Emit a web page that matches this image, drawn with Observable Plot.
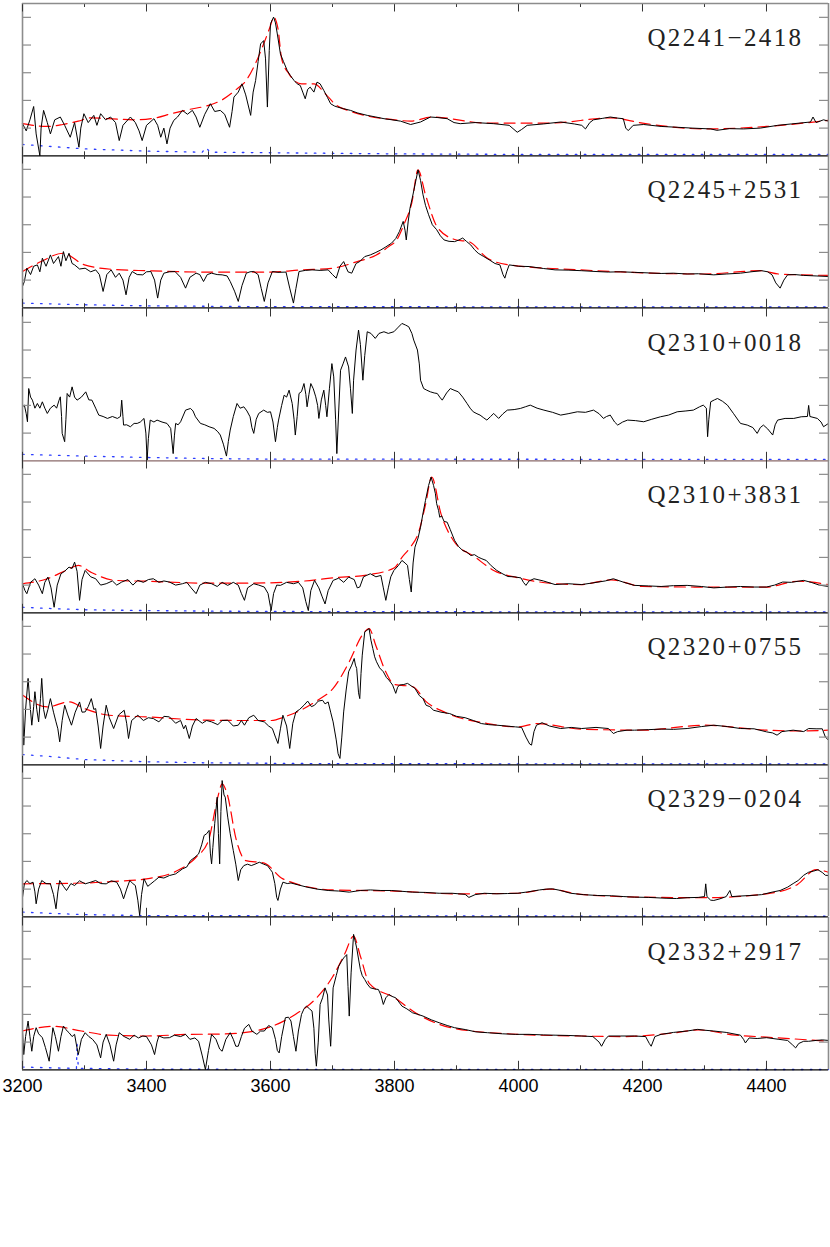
<!DOCTYPE html>
<html><head><meta charset="utf-8">
<script src="https://cdn.jsdelivr.net/npm/d3@7"></script>
<script src="https://cdn.jsdelivr.net/npm/@observablehq/plot@0.6"></script>
<style>
body{margin:0;background:#fff}
#chart{padding-top:3px;width:830px}
#chart svg{display:block}
</style>
</head><body><div id="chart"></div>
<script>
// ---------- DATA ----------
const names = ["Q2241\u22122418","Q2245+2531","Q2310+0018","Q2310+3831","Q2320+0755","Q2329\u22120204","Q2332+2917"];

const spec1 = [[3200,1.16],[3206,0.9],[3212,1.3],[3218,1.78],[3222,0.79],[3228,0],[3230,1.0],[3234,1.64],[3240,1.2],[3245,0.79],[3252,1.3],[3261,1.40],[3268,1.1],[3277,0.67],[3284,1.2],[3291,0.31],[3294,1.0],[3299,1.52],[3306,1.2],[3315,1.46],[3320,1.1],[3326,1.52],[3334,1.3],[3342,1.40],[3350,1.2],[3356,0.55],[3362,1.1],[3374,1.40],[3382,1.2],[3388,0.9],[3393,0.55],[3400,1.1],[3412,1.34],[3418,1.1],[3423,0.67],[3428,1.0],[3433,0.43],[3438,1.0],[3444,1.28],[3450,1.4],[3458,1.64],[3466,1.5],[3474,1.64],[3480,1.4],[3486,1.03],[3494,1.5],[3503,1.88],[3510,1.6],[3519,1.64],[3526,1.5],[3534,1.03],[3538,1.6],[3541,2.12],[3548,2.3],[3554,2.60],[3560,2.2],[3568,1.46],[3572,2.3],[3576,2.72],[3580,3.4],[3584,4.04],[3589,4.16],[3592,3.5],[3595,1.76],[3598,3.8],[3600,4.77],[3605,5.01],[3608,4.8],[3611,4.40],[3616,3.68],[3621,3.4],[3627,3.08],[3632,2.9],[3638,2.72],[3643,2.6],[3648,2.54],[3652,2.3],[3656,2.06],[3660,2.4],[3664,2.48],[3670,2.3],[3675,2.66],[3680,2.6],[3686,2.36],[3692,2.1],[3697,1.88],[3703,1.8],[3708,1.76],[3718,1.7],[3729,1.64],[3740,1.55],[3756,1.46],[3770,1.4],[3783,1.34],[3796,1.3],[3810,1.25],[3826,1.13],[3842,1.22],[3858,1.40],[3870,1.38],[3885,1.34],[3896,1.2],[3906,1.16],[3930,1.2],[3960,1.16],[3985,1.1],[3998,0.85],[4005,0.95],[4014,1.10],[4040,1.15],[4068,1.22],[4090,1.15],[4102,1.1],[4108,0.97],[4115,1.2],[4121,1.30],[4135,1.35],[4148,1.40],[4160,1.36],[4169,1.34],[4173,1.0],[4177,0.91],[4185,1.1],[4202,1.13],[4230,1.06],[4256,1.03],[4280,1.0],[4310,0.97],[4320,0.92],[4340,0.98],[4363,0.97],[4390,1.0],[4418,1.1],[4440,1.15],[4471,1.22],[4475,1.4],[4480,1.2],[4492,1.30],[4500,1.25]];
const cont1 = [[3200,1.16],[3240,1.06],[3265,1.13],[3290,1.25],[3310,1.37],[3340,1.34],[3380,1.30],[3415,1.37],[3440,1.52],[3470,1.68],[3500,1.82],[3522,2.02],[3545,2.4],[3560,2.7],[3575,3.3],[3590,4.1],[3600,4.7],[3605,5.01],[3612,4.6],[3618,3.5],[3630,2.95],[3650,2.6],[3670,2.6],[3690,2.2],[3705,1.85],[3730,1.6],[3760,1.42],[3800,1.3],[3826,1.25],[3860,1.40],[3950,1.18],[4050,1.18],[4150,1.37],[4200,1.18],[4300,0.97],[4400,1.06],[4500,1.28]];
const err1 = [[3200,0.41],[3250,0.33],[3300,0.25],[3400,0.17],[3490,0.13],[3496,0.31],[3502,0.13],[3600,0.11],[3800,0.07],[4000,0.05],[4500,0.05]];

const spec2 = [[3200,0.77],[3203,0.95],[3207,1.43],[3213,1.2],[3218,1.5],[3224,1.55],[3228,1.3],[3232,1.79],[3238,1.5],[3245,1.91],[3250,1.6],[3258,1.85],[3262,1.5],[3266,2.03],[3270,1.7],[3275,1.97],[3280,1.6],[3284,1.55],[3292,1.4],[3301,1.43],[3310,1.3],[3318,1.37],[3324,1.2],[3330,0.59],[3336,1.2],[3343,1.37],[3350,1.1],[3356,1.25],[3362,1.0],[3367,0.47],[3372,1.1],[3377,1.31],[3385,1.2],[3394,1.19],[3400,1.3],[3407,1.31],[3413,1.0],[3418,0.35],[3423,1.0],[3428,1.25],[3437,1.3],[3446,1.31],[3455,1.1],[3463,0.71],[3470,1.1],[3480,1.25],[3486,1.2],[3492,0.95],[3498,1.2],[3505,1.25],[3514,1.2],[3522,1.19],[3530,1.15],[3535,0.95],[3542,0.6],[3548,0.23],[3554,0.8],[3561,1.25],[3567,1.3],[3573,1.31],[3580,1.2],[3585,0.7],[3590,0.23],[3596,0.9],[3603,1.31],[3612,1.28],[3625,1.29],[3631,0.71],[3637,0.17],[3641,0.7],[3646,1.31],[3656,1.35],[3667,1.37],[3680,1.35],[3693,1.37],[3700,1.2],[3706,1.07],[3712,1.5],[3718,1.67],[3725,1.3],[3731,1.25],[3738,1.6],[3744,1.67],[3752,1.85],[3761,1.91],[3770,2.0],[3778,2.09],[3786,2.2],[3795,2.33],[3802,2.5],[3808,2.76],[3814,3.12],[3817,2.8],[3819,2.45],[3822,3.1],[3825,3.60],[3829,4.0],[3833,4.44],[3838,4.98],[3842,4.6],[3846,4.08],[3850,3.7],[3855,3.36],[3861,3.0],[3868,2.82],[3874,2.6],[3880,2.45],[3888,2.4],[3897,2.39],[3904,2.45],[3910,2.52],[3916,2.4],[3923,2.27],[3929,2.1],[3935,1.97],[3944,1.85],[3953,1.73],[3962,1.6],[3970,1.55],[3975,1.2],[3978,1.07],[3981,1.3],[3985,1.55],[4000,1.5],[4017,1.49],[4040,1.42],[4059,1.37],[4080,1.36],[4102,1.34],[4125,1.31],[4145,1.29],[4165,1.3],[4187,1.28],[4210,1.26],[4230,1.24],[4250,1.25],[4272,1.22],[4290,1.23],[4315,1.19],[4335,1.22],[4358,1.25],[4375,1.3],[4392,1.34],[4402,1.3],[4409,1.19],[4415,0.9],[4422,0.71],[4428,1.0],[4434,1.19],[4446,1.2],[4460,1.17],[4480,1.15],[4500,1.13]];
const cont2 = [[3200,1.31],[3230,1.67],[3265,1.97],[3300,1.55],[3350,1.38],[3400,1.34],[3500,1.29],[3600,1.29],[3650,1.37],[3700,1.43],[3740,1.67],[3770,1.9],[3790,2.2],[3805,2.5],[3815,3.0],[3828,3.8],[3838,4.98],[3850,4.08],[3870,2.88],[3900,2.45],[3920,2.39],[3950,1.79],[3985,1.55],[4100,1.37],[4300,1.22],[4390,1.34],[4420,1.22],[4500,1.17]];
const err2 = [[3200,0.17],[3300,0.11],[3400,0.07],[3600,0.04],[4500,0.03]];

const spec3 = [[3200,1.95],[3203,2.01],[3206,1.7],[3208,1.41],[3210,2.61],[3213,2.3],[3216,2.19],[3220,1.9],[3224,2.07],[3228,1.9],[3232,2.13],[3236,1.9],[3240,1.71],[3245,1.9],[3251,2.01],[3255,1.9],[3259,2.19],[3261,2.31],[3263,1.6],[3264,0.99],[3268,0.69],[3270,1.5],[3272,2.43],[3276,2.3],[3280,2.67],[3284,2.3],[3288,2.19],[3295,2.3],[3302,2.49],[3307,2.2],[3312,2.19],[3318,1.9],[3323,1.65],[3330,1.6],[3337,1.53],[3345,1.6],[3353,1.53],[3358,1.6],[3360,2.19],[3362,1.6],[3363,1.29],[3368,1.3],[3374,1.23],[3380,1.35],[3385,1.35],[3390,1.4],[3396,1.53],[3399,1.0],[3401,0.02],[3403,0.8],[3406,1.47],[3412,1.4],[3417,1.47],[3425,1.4],[3433,1.35],[3439,1.17],[3443,0.26],[3445,0.9],[3447,1.35],[3451,1.3],[3455,1.41],[3463,1.83],[3471,1.89],[3475,1.8],[3479,1.59],[3487,1.35],[3494,1.3],[3501,1.23],[3509,1.17],[3515,1.05],[3519,0.93],[3524,0.6],[3529,0.17],[3532,0.7],[3535,1.11],[3540,1.6],[3546,2.07],[3551,1.9],[3557,1.95],[3562,1.8],[3567,1.59],[3570,1.2],[3573,0.99],[3577,1.5],[3581,1.71],[3589,1.83],[3595,1.75],[3600,1.77],[3604,1.4],[3608,0.69],[3611,1.2],[3613,1.47],[3618,2.0],[3622,2.37],[3626,2.3],[3630,2.55],[3635,2.07],[3638,1.5],[3640,0.93],[3643,1.6],[3646,2.43],[3650,2.5],[3654,2.79],[3657,2.4],[3659,1.95],[3662,2.4],[3665,2.79],[3669,2.6],[3673,2.31],[3676,2.0],[3678,1.53],[3682,2.2],[3686,2.55],[3689,2.0],[3691,1.59],[3695,2.6],[3699,3.51],[3702,3.03],[3705,1.5],[3707,0.26],[3710,1.8],[3713,3.27],[3717,3.5],[3721,3.75],[3726,3.39],[3729,2.6],[3732,1.71],[3734,2.91],[3738,4.0],[3742,4.72],[3745,4.2],[3749,2.91],[3752,3.8],[3756,4.66],[3762,4.6],[3769,4.42],[3775,4.6],[3783,4.66],[3790,4.6],[3799,4.66],[3805,4.8],[3812,4.96],[3818,4.9],[3823,4.84],[3828,4.6],[3831,4.36],[3834,4.18],[3837,4.0],[3840,3.5],[3842,2.91],[3847,2.61],[3852,2.55],[3858,2.49],[3864,2.45],[3869,2.43],[3873,2.3],[3877,2.19],[3884,2.45],[3890,2.61],[3896,2.55],[3903,2.49],[3910,2.3],[3917,2.07],[3922,1.9],[3927,1.77],[3933,1.7],[3938,1.65],[3944,1.55],[3949,1.47],[3955,1.6],[3960,1.71],[3968,1.53],[3975,1.7],[3982,1.83],[3993,1.85],[4003,1.89],[4011,1.95],[4019,2.01],[4030,1.9],[4041,1.83],[4055,1.75],[4068,1.65],[4080,1.7],[4095,1.77],[4108,1.75],[4121,1.83],[4130,1.7],[4137,1.53],[4142,1.6],[4148,1.65],[4155,1.4],[4160,1.29],[4168,1.4],[4176,1.47],[4189,1.45],[4202,1.41],[4215,1.5],[4229,1.59],[4242,1.65],[4256,1.77],[4270,1.8],[4282,1.83],[4292,1.95],[4298,2.01],[4303,1.9],[4305,0.87],[4307,1.5],[4310,2.13],[4316,2.2],[4321,2.25],[4329,2.15],[4337,2.01],[4347,1.7],[4358,1.35],[4369,1.29],[4378,1.2],[4385,0.99],[4390,1.2],[4395,1.29],[4402,1.15],[4410,0.93],[4414,1.3],[4418,1.47],[4430,1.53],[4444,1.53],[4456,1.59],[4466,1.6],[4468,2.0],[4470,1.6],[4482,1.53],[4488,1.4],[4492,1.23],[4500,1.35]];
const cont3 = [];
const err3 = [[3200,0.23],[3250,0.2],[3300,0.17],[3400,0.12],[3500,0.08],[3600,0.06],[4500,0.05]];

const spec4 = [[3200,1.05],[3204,0.8],[3207,0.69],[3213,1.1],[3220,1.23],[3226,1.0],[3232,0.69],[3236,1.1],[3241,1.29],[3246,0.9],[3251,0.20],[3256,1.0],[3262,1.41],[3268,1.5],[3275,1.65],[3280,1.6],[3284,1.83],[3288,1.5],[3292,0.45],[3296,1.2],[3301,1.53],[3310,1.3],[3318,1.23],[3326,1.0],[3335,1.05],[3345,1.15],[3352,1.0],[3360,1.11],[3370,1.2],[3378,1.0],[3386,1.17],[3395,1.1],[3403,1.2],[3411,1.23],[3420,1.1],[3428,1.15],[3437,1.11],[3447,1.0],[3458,1.05],[3465,1.1],[3472,0.9],[3480,0.69],[3486,1.0],[3495,1.1],[3505,1.05],[3514,0.95],[3522,1.1],[3531,0.99],[3540,1.1],[3548,1.0],[3553,0.7],[3558,0.45],[3563,0.9],[3573,1.05],[3581,1.0],[3590,0.93],[3596,0.7],[3601,0.08],[3605,0.7],[3610,1.0],[3616,0.99],[3626,1.1],[3637,1.05],[3645,1.1],[3652,0.9],[3657,0.4],[3661,0.08],[3665,0.8],[3671,1.17],[3678,0.9],[3683,0.6],[3688,0.32],[3693,0.8],[3701,1.17],[3710,1.25],[3718,1.1],[3726,1.29],[3735,1.2],[3740,0.9],[3744,0.93],[3750,1.3],[3755,1.35],[3761,1.41],[3770,1.3],[3778,1.35],[3782,0.9],[3786,0.45],[3790,0.9],[3794,1.3],[3799,1.53],[3806,1.7],[3812,1.89],[3817,1.8],[3821,1.71],[3824,1.2],[3827,0.75],[3830,1.8],[3833,2.37],[3838,2.7],[3842,3.09],[3846,3.6],[3850,4.06],[3855,4.6],[3859,4.90],[3863,4.6],[3866,4.3],[3868,3.94],[3871,3.7],[3873,3.45],[3876,3.5],[3880,3.3],[3885,3.27],[3890,3.0],[3897,2.61],[3903,2.4],[3910,2.25],[3916,2.2],[3923,2.07],[3929,2.1],[3935,2.01],[3941,1.95],[3948,1.89],[3956,1.7],[3965,1.53],[3975,1.4],[3983,1.31],[3993,1.3],[4004,1.26],[4008,1.1],[4012,0.99],[4017,1.15],[4025,1.23],[4040,1.15],[4059,1.02],[4080,1.05],[4102,1.02],[4120,1.08],[4140,1.15],[4153,1.23],[4170,1.1],[4187,0.99],[4210,0.97],[4230,0.95],[4250,0.98],[4272,0.99],[4295,0.95],[4315,0.90],[4337,0.93],[4358,0.95],[4380,0.93],[4400,0.93],[4413,1.0],[4426,1.11],[4440,1.1],[4460,1.17],[4472,1.1],[4485,1.0],[4500,0.95]];
const cont4 = [[3200,1.05],[3240,1.23],[3270,1.53],[3290,1.71],[3310,1.47],[3350,1.17],[3400,1.14],[3500,1.07],[3560,1.07],[3650,1.14],[3700,1.26],[3760,1.38],[3800,1.63],[3812,2.0],[3825,2.35],[3838,2.85],[3850,3.9],[3860,4.90],[3875,3.57],[3895,2.61],[3930,2.01],[3960,1.53],[4000,1.26],[4050,1.07],[4100,1.02],[4150,1.19],[4200,0.95],[4300,0.93],[4400,0.93],[4450,1.14],[4500,1.02]];
const err4 = [[3200,0.20],[3250,0.15],[3300,0.11],[3400,0.08],[3500,0.06],[3700,0.04],[4500,0.03]];

const spec5 = [[3200,2.52],[3202,0.71],[3205,2.0],[3209,3.12],[3212,2.2],[3215,1.43],[3218,2.1],[3220,2.64],[3223,2.0],[3226,1.55],[3229,2.4],[3231,3.12],[3234,2.0],[3237,1.67],[3241,2.0],[3245,2.39],[3250,1.9],[3254,1.55],[3257,1.3],[3260,0.83],[3264,1.6],[3268,2.15],[3273,1.8],[3279,1.43],[3285,1.9],[3292,2.27],[3296,1.9],[3301,1.91],[3306,2.1],[3311,2.39],[3315,2.0],[3318,2.03],[3322,1.4],[3326,0.59],[3330,1.4],[3335,2.15],[3340,1.7],[3347,1.31],[3355,1.8],[3364,1.97],[3368,1.5],[3371,0.95],[3376,1.6],[3386,1.79],[3395,1.6],[3403,1.7],[3411,1.67],[3420,1.55],[3428,1.75],[3437,1.73],[3447,1.5],[3455,1.6],[3460,1.3],[3463,1.43],[3469,0.95],[3474,1.4],[3480,1.67],[3490,1.5],[3497,1.6],[3505,1.55],[3515,1.45],[3522,1.6],[3531,1.61],[3540,1.4],[3548,1.43],[3553,1.6],[3558,1.43],[3565,1.7],[3573,1.79],[3580,1.6],[3590,1.55],[3597,1.4],[3603,1.31],[3608,1.0],[3612,0.77],[3616,1.3],[3620,1.79],[3626,1.4],[3631,0.59],[3636,1.5],[3641,1.91],[3647,2.0],[3654,2.15],[3660,2.3],[3666,2.1],[3671,2.15],[3677,2.3],[3684,2.33],[3688,2.2],[3693,2.27],[3697,1.9],[3701,1.55],[3706,0.9],[3709,0.4],[3712,0.23],[3715,1.0],[3718,1.91],[3722,2.7],[3726,3.36],[3731,3.6],[3735,3.84],[3737,3.6],[3739,3.48],[3742,2.6],[3744,2.39],[3746,3.3],[3748,3.96],[3752,4.80],[3755,4.85],[3759,4.92],[3762,4.5],[3765,4.20],[3768,3.9],[3771,3.72],[3776,3.5],[3782,3.36],[3787,3.15],[3791,3.06],[3797,2.88],[3800,2.7],[3802,2.58],[3805,2.8],[3808,2.88],[3815,2.9],[3821,2.94],[3827,2.85],[3833,2.76],[3840,2.5],[3846,2.39],[3851,2.15],[3857,2.1],[3863,1.97],[3875,1.9],[3889,1.85],[3900,1.75],[3914,1.70],[3927,1.6],[3940,1.49],[3952,1.45],[3965,1.43],[3980,1.4],[3995,1.37],[4005,1.35],[4012,1.0],[4018,0.75],[4021,0.71],[4025,1.2],[4029,1.43],[4038,1.52],[4050,1.4],[4068,1.31],[4085,1.35],[4102,1.31],[4125,1.35],[4145,1.31],[4150,1.2],[4153,1.13],[4160,1.2],[4175,1.25],[4187,1.25],[4210,1.27],[4230,1.29],[4250,1.28],[4272,1.31],[4295,1.38],[4315,1.43],[4337,1.38],[4358,1.31],[4380,1.3],[4400,1.19],[4410,1.15],[4417,1.07],[4425,1.2],[4443,1.25],[4460,1.2],[4468,1.31],[4480,1.3],[4490,1.3],[4495,1.0],[4500,0.89]];
const cont5 = [[3200,2.52],[3240,2.09],[3275,2.27],[3300,2.03],[3340,1.79],[3400,1.73],[3500,1.61],[3560,1.6],[3600,1.6],[3625,1.75],[3654,2.03],[3676,2.33],[3701,2.76],[3727,3.72],[3748,4.68],[3759,4.92],[3770,4.3],[3785,3.4],[3800,2.9],[3830,2.82],[3850,2.3],[3880,1.91],[3950,1.49],[4000,1.37],[4030,1.49],[4100,1.29],[4200,1.25],[4300,1.43],[4400,1.25],[4450,1.22],[4500,1.25]];
const err5 = [[3200,0.37],[3250,0.29],[3300,0.19],[3400,0.11],[3500,0.07],[3700,0.04],[4500,0.03]];

const spec6 = [[3200,0.7],[3203,1.19],[3207,1.31],[3212,1.2],[3217,1.25],[3220,0.9],[3222,0.47],[3226,1.0],[3231,1.31],[3238,1.2],[3245,1.19],[3250,0.8],[3254,0.29],[3257,0.9],[3260,1.31],[3266,1.1],[3271,0.95],[3278,1.2],[3284,1.13],[3292,1.3],[3301,1.19],[3310,1.25],[3318,1.31],[3326,1.2],[3335,1.19],[3343,1.3],[3352,1.25],[3358,1.0],[3363,0.65],[3368,1.0],[3373,1.31],[3378,1.2],[3382,1.13],[3386,0.6],[3389,0.05],[3392,0.8],[3396,1.37],[3402,1.1],[3407,1.19],[3413,1.3],[3420,1.43],[3428,1.4],[3437,1.49],[3447,1.55],[3458,1.73],[3465,1.8],[3471,2.03],[3478,2.15],[3484,2.27],[3489,2.6],[3493,2.94],[3497,3.0],[3501,3.12],[3503,2.3],[3505,1.91],[3507,2.5],[3510,3.36],[3514,4.32],[3516,3.0],[3518,1.91],[3520,3.8],[3522,4.92],[3525,4.4],[3527,4.32],[3531,3.60],[3535,3.0],[3540,2.39],[3544,1.9],[3548,1.31],[3552,1.7],[3557,1.85],[3563,1.9],[3569,1.85],[3575,1.9],[3582,1.97],[3589,1.9],[3595,1.85],[3600,1.7],[3603,1.61],[3607,1.2],[3610,0.7],[3612,0.59],[3616,1.0],[3620,1.25],[3627,1.2],[3633,1.22],[3645,1.15],[3659,1.07],[3675,1.0],[3693,0.95],[3710,0.93],[3727,0.89],[3745,0.95],[3761,0.97],[3778,0.95],[3795,0.95],[3812,0.92],[3829,0.89],[3850,0.88],[3872,0.85],[3893,0.85],[3914,0.81],[3920,0.7],[3930,0.8],[3945,0.85],[3965,0.83],[3982,0.84],[3999,0.85],[4015,0.9],[4034,0.97],[4045,1.0],[4055,1.01],[4068,0.95],[4084,0.85],[4105,0.8],[4127,0.77],[4150,0.76],[4170,0.73],[4187,0.71],[4210,0.7],[4238,0.67],[4255,0.66],[4272,0.69],[4290,0.7],[4300,0.73],[4302,1.19],[4304,0.73],[4310,0.6],[4315,0.59],[4325,0.65],[4335,0.73],[4341,0.95],[4344,0.73],[4358,0.75],[4375,0.77],[4392,0.8],[4409,0.89],[4422,0.95],[4434,1.07],[4443,1.2],[4451,1.31],[4460,1.5],[4468,1.61],[4476,1.65],[4483,1.70],[4490,1.6],[4495,1.5],[4500,1.49]];
const cont6 = [[3200,1.19],[3300,1.22],[3350,1.28],[3400,1.37],[3450,1.67],[3480,2.15],[3500,2.76],[3515,4.32],[3522,4.80],[3530,4.44],[3545,2.76],[3560,2.03],[3590,1.94],[3620,1.37],[3700,0.97],[3800,0.93],[3900,0.83],[4000,0.85],[4050,1.00],[4100,0.81],[4200,0.71],[4300,0.69],[4400,0.83],[4450,1.17],[4480,1.70],[4500,1.61]];
const err6 = [[3200,0.17],[3250,0.12],[3300,0.08],[3400,0.04],[4500,0.02]];

const spec7 = [[3200,1.40],[3202,0.55],[3205,1.2],[3209,1.76],[3212,1.2],[3215,0.67],[3218,1.2],[3222,1.52],[3226,1.3],[3232,1.16],[3237,0.8],[3243,0.31],[3246,0.9],[3249,1.52],[3253,1.2],[3258,0.67],[3262,1.2],[3266,1.58],[3270,1.45],[3275,1.34],[3280,1.2],[3284,1.28],[3287,0.9],[3290,0.55],[3295,1.1],[3301,1.34],[3307,1.2],[3313,1.10],[3320,0.9],[3326,0.43],[3330,1.0],[3335,1.28],[3341,0.9],[3347,0.31],[3351,0.9],[3356,1.34],[3364,1.2],[3373,1.10],[3380,1.25],[3387,1.15],[3394,1.22],[3400,1.2],[3408,0.9],[3413,0.55],[3417,1.0],[3420,1.22],[3428,1.15],[3437,1.16],[3445,1.25],[3455,1.2],[3463,1.28],[3470,1.1],[3478,1.15],[3484,1.03],[3490,0.5],[3495,0.01],[3500,0.7],[3505,1.28],[3512,1.1],[3518,0.75],[3522,0.67],[3528,1.1],[3535,1.34],[3540,1.1],[3544,0.85],[3548,0.85],[3553,1.2],[3558,1.5],[3565,1.64],[3570,1.4],[3578,1.28],[3584,1.4],[3590,1.40],[3597,1.6],[3603,1.52],[3608,1.1],[3611,0.7],[3614,0.61],[3618,1.2],[3624,1.88],[3629,1.9],[3633,1.76],[3637,1.2],[3641,0.67],[3645,1.4],[3650,2.00],[3654,2.2],[3658,2.30],[3663,2.2],[3667,2.12],[3670,1.5],[3672,0.6],[3674,0.13],[3677,1.0],[3680,2.36],[3684,2.6],[3688,2.96],[3692,2.7],[3694,1.8],[3697,0.85],[3699,1.8],[3701,2.96],[3706,3.4],[3710,3.74],[3714,3.9],[3718,4.04],[3723,4.16],[3725,3.0],[3727,1.94],[3730,3.5],[3734,4.89],[3737,4.6],[3739,4.40],[3742,4.0],[3745,3.62],[3748,3.4],[3752,3.26],[3756,3.1],[3761,2.96],[3768,2.92],[3774,2.90],[3778,2.7],[3782,2.36],[3786,2.6],[3791,2.72],[3796,2.65],[3802,2.60],[3807,2.45],[3812,2.30],[3820,2.2],[3829,2.06],[3838,2.0],[3846,1.94],[3860,1.8],[3872,1.70],[3885,1.6],[3897,1.52],[3915,1.45],[3931,1.37],[3950,1.34],[3974,1.30],[3995,1.28],[4017,1.28],[4040,1.26],[4059,1.25],[4080,1.24],[4102,1.22],[4120,1.2],[4130,1.0],[4134,0.85],[4140,1.1],[4145,1.22],[4165,1.22],[4187,1.22],[4205,1.2],[4211,0.95],[4214,0.85],[4220,1.2],[4230,1.28],[4250,1.35],[4272,1.40],[4289,1.46],[4300,1.43],[4315,1.40],[4335,1.35],[4358,1.25],[4363,1.1],[4366,0.97],[4372,1.15],[4385,1.13],[4400,1.16],[4420,1.1],[4434,1.06],[4442,0.9],[4447,0.79],[4452,0.95],[4460,1.03],[4468,1.03],[4480,1.06],[4490,1.08],[4500,1.06]];
const cont7 = [[3200,1.40],[3250,1.57],[3295,1.40],[3340,1.25],[3400,1.22],[3470,1.28],[3520,1.29],[3560,1.35],[3600,1.55],[3640,2.0],[3670,2.5],[3700,3.35],[3720,4.2],[3734,4.83],[3745,4.1],[3760,3.1],[3800,2.6],[3835,2.04],[3870,1.66],[3900,1.48],[4000,1.28],[4100,1.22],[4170,1.2],[4250,1.33],[4290,1.44],[4350,1.25],[4400,1.18],[4500,1.03]];
const err7 = [[3200,0.10],[3250,0.07],[3285,0.05],[3287,0.05],[3288,0.97],[3290,0.05],[3300,0.05],[3400,0.02],[4500,0.01]];

const spectra = [spec1, spec2, spec3, spec4, spec5, spec6, spec7];
const continua = [cont1, cont2, cont3, cont4, cont5, cont6, cont7];
const errors = [err1, err2, err3, err4, err5, err6, err7];

const majorTicks = [3200, 3400, 3600, 3800, 4000, 4200, 4400];
const minorTicks = [3300, 3500, 3700, 3900, 4100, 4300];
const yTicks = [1, 2, 3, 4, 5];
const xTickLabels = ["3200", "3400", "3600", "3800", "4000", "4200", "4400"];

// ---------- DRAW ----------
const W = 830, ML = 22, MR = 2, H = 152.3, AXIS_H = 34;
const X0 = 3200, X1 = 4500, Y0 = 0, Y1 = 5.5;
const perPxX = (X1 - X0) / (W - ML - MR);
const perPxY = (Y1 - Y0) / H;
const fx = d => d[0], fy = d => d[1];

function panel(i) {
  const last = i === names.length - 1;
  const first = i === 0;
  const zeroColor = i === 2 ? "#8a6a6a" : "#000";
  const majLen = 8.5 * perPxY, minLen = 4 * perPxY, yLen = 9 * perPxX;
  const marks = [
    Plot.line(errors[i], {x: fx, y: fy, stroke: "#2b3cff", strokeWidth: 1.3, strokeDasharray: "1.6,7.4"}),
    continua[i].length ? Plot.line(continua[i], {x: fx, y: fy, stroke: "#ff0000", strokeWidth: 1.2, strokeDasharray: "11,6", curve: "monotone-x"}) : null,
    Plot.line(spectra[i], {x: fx, y: fy, stroke: "#000", strokeWidth: 1}),
    Plot.ruleY([0], {stroke: zeroColor, strokeWidth: 1.3}),
    Plot.ruleX([X0, X1], {stroke: "#8c8c8c", strokeWidth: 1.6}),
    Plot.ruleX(majorTicks, {y1: 0, y2: majLen, stroke: "#333", strokeWidth: 1}),
    Plot.ruleX(minorTicks, {y1: 0, y2: minLen, stroke: "#333", strokeWidth: 1}),
    Plot.ruleX(majorTicks, {y1: Y1 - majLen, y2: Y1, stroke: "#333", strokeWidth: 1}),
    Plot.ruleX(minorTicks, {y1: Y1 - minLen, y2: Y1, stroke: "#333", strokeWidth: 1}),
    Plot.ruleY(yTicks, {x1: X0, x2: X0 + yLen, stroke: "#8c8c8c", strokeWidth: 1.2}),
    Plot.ruleY(yTicks, {x1: X1 - yLen, x2: X1, stroke: "#8c8c8c", strokeWidth: 1.2}),
    Plot.text([names[i]], {frameAnchor: "top-right", text: d => d, dx: -25, dy: 43, lineAnchor: "bottom",
      fontSize: 25, fontFamily: "Liberation Serif", fill: "#222", textAnchor: "end"})
  ];
  if (first) marks.push(Plot.ruleY([Y1], {stroke: "#8c8c8c", strokeWidth: 1.6}));
  if (last) marks.push(Plot.text(xTickLabels, {x: d => +d, y: d => 0, text: d => d, dy: 22, lineAnchor: "bottom",
    fontSize: 18, fontFamily: "Liberation Sans", fill: "#000"}));
  const svg = Plot.plot({
    width: W, height: last ? H + AXIS_H : H,
    marginLeft: ML, marginRight: MR, marginTop: 0, marginBottom: last ? AXIS_H : 0,
    x: {domain: [X0, X1], axis: null},
    y: {domain: [Y0, Y1], axis: null},
    style: {background: "#fff", overflow: "visible"},
    marks: marks.filter(Boolean)
  });
  d3.select(svg).selectAll('g[font-family="Liberation Serif"]').attr("letter-spacing", "2.4px");
  return svg;
}

const root = document.getElementById("chart");
names.forEach((_, i) => root.appendChild(panel(i)));
</script>
</body></html>
